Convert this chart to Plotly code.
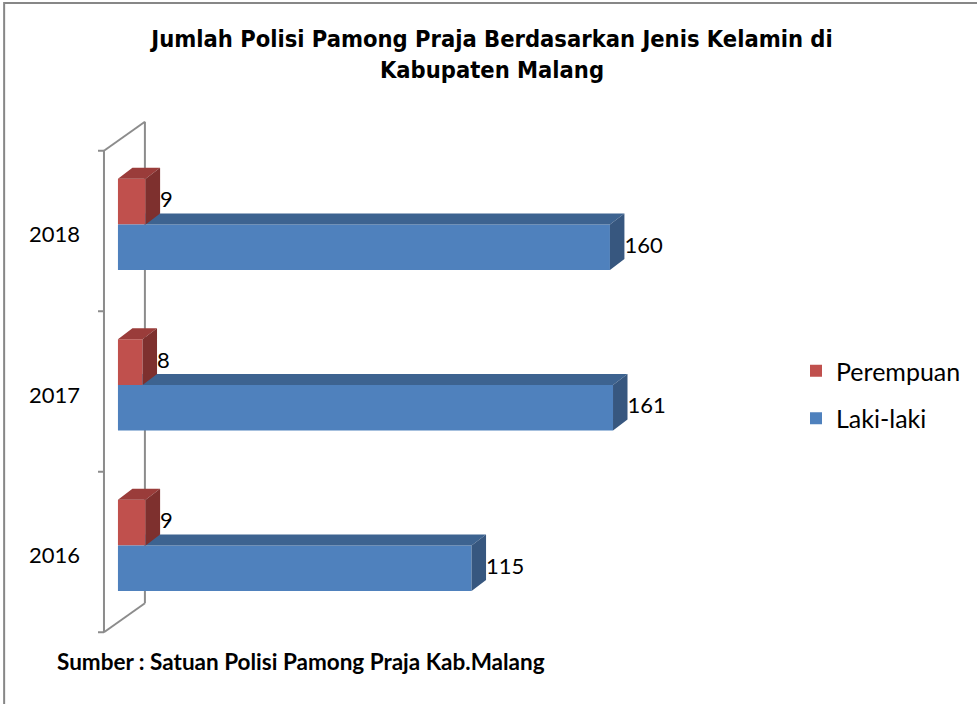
import plotly.graph_objects as go

# ---- data ----
years = ["2016", "2017", "2018"]
laki_laki = [115, 161, 160]
perempuan = [9, 8, 9]
series_names = ["Laki-laki", "Perempuan"]

title_text = "<b>Jumlah Polisi Pamong Praja Berdasarkan Jenis Kelamin di<br>Kabupaten Malang</b>"
source_text = "<b>Sumber : Satuan Polisi Pamong Praja Kab.Malang</b>"

# ---- style ----
FONT = "Lato"
TITLE_FONT = "DejaVu Sans Condensed"
BLUE, BLUE_TOP, BLUE_SIDE = "#4F81BD", "#3D6390", "#37577F"
RED, RED_TOP, RED_SIDE = "#C0504D", "#9A3C3A", "#7E302E"
WALL = "#8C8C8C"

W, H = 977, 704
L, R, T, B = 90, 277, 110, 54
PW, PH = W - L - R, H - T - B
PX_PER_UNIT = 3.08          # x scale (px per value unit)
ZERO_PX = 118                # pixel of value 0
CAT_PX = 160.5               # px per category
CAT0_PX = 552                # pixel of first category centre
xmin = (L - ZERO_PX) / PX_PER_UNIT
xmax = (L + PW - ZERO_PX) / PX_PER_UNIT
ytop = (CAT0_PX - T) / CAT_PX
ybot = (CAT0_PX - (T + PH)) / CAT_PX

# 3D depth of bars and wall, in data units
DX = 14.5 / PX_PER_UNIT
DY = 11 / CAT_PX
WALL_DX = 41 / PX_PER_UNIT
WALL_DY = 29 / CAT_PX
WALL_X = (104 - ZERO_PX) / PX_PER_UNIT
TICK_LEN = 6 / PX_PER_UNIT

BLUE_OFF, BLUE_W = -0.243, 0.283
RED_OFF, RED_W = 0.04, 0.285

ypos = list(range(len(years)))

fig = go.Figure()

# front faces
fig.add_trace(go.Bar(
    y=ypos, x=perempuan, orientation="h", name=series_names[1],
    offset=RED_OFF, width=RED_W, marker=dict(color=RED, line=dict(width=0)),
    legendgroup="p", legendrank=1, hoverinfo="skip"))
fig.add_trace(go.Bar(
    y=ypos, x=laki_laki, orientation="h", name=series_names[0],
    offset=BLUE_OFF, width=BLUE_W, marker=dict(color=BLUE, line=dict(width=0)),
    legendgroup="l", legendrank=2, hoverinfo="skip"))


def faces(values, off, width, cover=None):
    tx, ty, sx, sy = [], [], [], []
    for i, v in enumerate(values):
        b = i + off
        t = b + width
        left = 0 if cover is None else cover[i]
        # top face (trimmed where hidden behind the bar above)
        if left > 0:
            tx += [left, v, v + DX, max(DX, left), None]
            ty += [t, t, t + DY, t + DY, None]
        else:
            tx += [0, v, v + DX, DX, 0, None]
            ty += [t, t, t + DY, t + DY, t, None]
        # side face
        sx += [v, v, v + DX, v + DX, v, None]
        sy += [b, t, t + DY, b + DY, b, None]
    return tx, ty, sx, sy


for vals, off, wd, ctop, cside, cover in [
    (laki_laki, BLUE_OFF, BLUE_W, BLUE_TOP, BLUE_SIDE, perempuan),
    (perempuan, RED_OFF, RED_W, RED_TOP, RED_SIDE, None),
]:
    tx, ty, sx, sy = faces(vals, off, wd, cover)
    for xx, yy, c in [(tx, ty, ctop), (sx, sy, cside)]:
        fig.add_trace(go.Scatter(
            x=xx, y=yy, mode="lines", fill="toself", fillcolor=c,
            line=dict(width=0, color=c), showlegend=False, hoverinfo="skip"))

# data labels
for vals, off, wd in [(perempuan, RED_OFF, RED_W), (laki_laki, BLUE_OFF, BLUE_W)]:
    fig.add_trace(go.Scatter(
        x=[v + DX for v in vals], y=[i + off + wd / 2 for i in ypos],
        mode="text", text=[str(v) for v in vals], textposition="middle right",
        textfont=dict(family=FONT, size=22, color="#000000"),
        showlegend=False, hoverinfo="skip", cliponaxis=False))

# 3D wall outline (behind bars)
shapes = []
y_lo, y_hi = -0.5, len(years) - 0.5
shapes.append(dict(type="line", xref="x", yref="y", x0=WALL_X, x1=WALL_X,
                   y0=y_lo, y1=y_hi, line=dict(color=WALL, width=2), layer="below"))
shapes.append(dict(type="line", xref="x", yref="y", x0=WALL_X + WALL_DX, x1=WALL_X + WALL_DX,
                   y0=y_lo + WALL_DY, y1=y_hi + WALL_DY, line=dict(color=WALL, width=2), layer="below"))
for yy in (y_lo, y_hi):
    shapes.append(dict(type="line", xref="x", yref="y", x0=WALL_X, x1=WALL_X + WALL_DX,
                       y0=yy, y1=yy + WALL_DY, line=dict(color=WALL, width=2), layer="below"))
for k in range(len(years) + 1):
    yy = y_lo + k
    shapes.append(dict(type="line", xref="x", yref="y", x0=WALL_X - TICK_LEN, x1=WALL_X,
                       y0=yy, y1=yy, line=dict(color=WALL, width=2), layer="below"))
# outer chart border
shapes.append(dict(type="rect", xref="paper", yref="paper",
                   x0=(4 - L) / PW, x1=(W + 5 - L) / PW,
                   y0=(T + PH - (H + 5)) / PH, y1=(T + PH - 3) / PH,
                   line=dict(color="#878787", width=2), layer="below"))

fig.update_layout(
    width=W, height=H, autosize=False,
    margin=dict(l=L, r=R, t=T, b=B),
    paper_bgcolor="white", plot_bgcolor="white",
    barmode="overlay",
    font=dict(family=FONT, size=22, color="#000000"),
    title=dict(text=title_text, x=492 / W, xanchor="center", xref="container",
               y=1 - 47 / H, yanchor="top", yref="container",
               font=dict(family=TITLE_FONT, size=23.5, color="#000000")),
    xaxis=dict(range=[xmin, xmax], visible=False, fixedrange=True),
    yaxis=dict(range=[ybot, ytop], tickvals=[i - 0.022 for i in ypos], ticktext=years,
               showgrid=False, zeroline=False, showline=False, ticks="",
               ticklabelstandoff=9, tickfont=dict(family=FONT, size=22, color="#000000"),
               fixedrange=True),
    legend=dict(x=(796 - L) / PW, y=(T + PH - 348) / PH, xanchor="left", yanchor="top",
                traceorder="grouped", tracegroupgap=12,
                font=dict(family=FONT, size=25, color="#000000"),
                bgcolor="rgba(0,0,0,0)"),
    shapes=shapes,
    annotations=[dict(text=source_text, xref="paper", yref="paper",
                      x=(55 - L) / PW, y=(T + PH - 661) / PH, xanchor="left", yanchor="middle",
                      showarrow=False, font=dict(family=FONT, size=22.5, color="#000000"))],
)

fig.write_html("out.html", config={"displayModeBar": False},
               post_script="document.body.style.margin='0';")
